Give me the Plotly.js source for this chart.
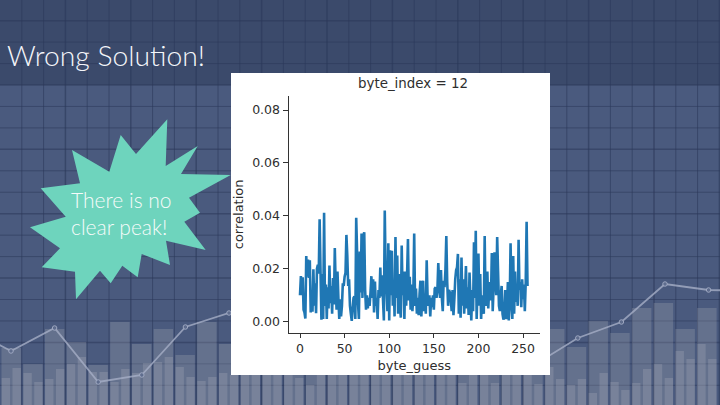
<!DOCTYPE html>
<html><head><meta charset="utf-8">
<script src="https://cdn.plot.ly/plotly-3.0.1.min.js"></script>
<style>html,body{margin:0;padding:0;background:#4a5a7e}#c{width:720px;height:405px}</style>
</head><body><div id="c"></div>
<script>
// --- line chart data: correlation per byte guess (byte_index = 12)
var correlation = [
.0100,.0172,.0100,.0168,.0045,.0035,.0012,.0248,.0170,.0235,.0165,.0232,.0035,.0100,.0038,.0198,
.0060,.0145,.0032,.0200,.0215,.0182,.0387,.0190,.0007,.0180,.0010,.0412,.0060,.0140,.0010,.0130,
.0050,.0212,.0070,.0135,.0030,.0165,.0065,.0278,.0135,.0045,.0190,.0090,.0010,.0085,.0020,.0060,
.0145,.0135,.0170,.0185,.0328,.0250,.0135,.0160,.0060,.0030,.0003,.0050,.0090,.0095,.0010,.0393,
.0260,.0070,.0010,.0265,.0110,.0333,.0090,.0325,.0338,.0120,.0045,.0100,.0050,.0090,.0060,.0110,
.0172,.0090,.0160,.0035,.0152,.0060,.0090,.0010,.0120,.0090,.0205,.0095,.0175,.0085,.0005,.0420,
.0180,.0120,.0040,.0296,.0005,.0270,.0100,.0268,.0060,.0150,.0020,.0320,.0090,.0250,.0030,.0180,
.0060,.0015,.0288,.0100,.0190,.0010,.0190,.0060,.0175,.0312,.0080,.0170,.0045,.0140,.0040,.0100,
.0333,.0060,.0125,.0030,.0090,.0025,.0105,.0155,.0020,.0090,.0155,.0040,.0105,.0030,.0232,.0090,
.0060,.0100,.0020,.0090,.0055,.0100,.0045,.0125,.0130,.0090,.0120,.0222,.0140,.0090,.0195,.0090,
.0040,.0155,.0130,.0195,.0324,.0150,.0060,.0120,.0110,.0085,.0040,.0120,.0025,.0085,.0160,.0195,
.0205,.0256,.0030,.0160,.0015,.0243,.0060,.0160,.0030,.0110,.0210,.0050,.0130,.0025,.0186,.0090,
.0005,.0120,.0040,.0300,.0090,.0344,.0010,.0150,.0258,.0060,.0180,.0010,.0100,.0060,.0030,.0324,
.0060,.0110,.0190,.0050,.0120,.0150,.0080,.0260,.0040,.0130,.0262,.0170,.0100,.0320,.0190,.0060,
.0040,.0100,.0135,.0030,.0008,.0020,.0120,.0010,.0055,.0150,.0005,.0060,.0296,.0110,.0010,.0248,
.0030,.0190,.0075,.0130,.0060,.0310,.0120,.0150,.0055,.0160,.0085,.0140,.0040,.0150,.0378,.0135
];
var xTicks = [0,50,100,150,200,250];
var yTicks = [0,0.02,0.04,0.06,0.08];
var yTickText = ["0.00","0.02","0.04","0.06","0.08"];
var guesses = correlation.map(function(_,i){return i;});

// --- slide backdrop: decorative bars and line (heights above the slide's bottom edge)
var frontBars = [27,37,32,23,26,36,41,48,33,33,23,36,32,42,43,48,38,28,24,28,32,30,
 35,35,35,35,35,27,20,35,35,35,35,35,35,35,35,35,35,35,35,30,22,35,35,22,35,35,35,
 21,38,26,20,26,12,32,23,15,22,36,41,27,54,46,61,46];
var backBars = [57,41,76,63,40,83,61,76,50,83,61,45,40,38,30,38,40,42,38,36,35,38,40,38,40,
 76,58,84,72,97,102,76,97];
var linePts = [77,54,77,23,30,78,92,75,85,60,65,55,70,40,67,83,121,115,114];

// --- starburst outline and white panel
var burstX = [167.3,165.7,197.7,181,230.7,189,200,184.3,205.7,166,170,141.7,137.7,122.3,110.7,100,76,75,41.7,60,30,65.7,40.7,80,72,109.3,120.7,136,167.3];
var burstY = [119.3,166,146,174,175,197.7,212.7,221.7,250,240.7,265,254,277.3,265.7,283.3,270.7,299.3,271.7,267.3,248.3,227.3,216.7,188.3,183.3,150,171.7,135,154,119.3];
var panelX = [231,550,550,231,231];
var panelY = [73,73,375,375,73];

function up(y){return 405-y;}
var slot = 10.87, pair = 21.74, grid = 21.8, gridY = 21.45;

var shapes = [
 {type:'rect',xref:'paper',yref:'paper',x0:0,x1:1,y0:up(85)/405,y1:1,fillcolor:'#3b4a6b',line:{width:0},layer:'below'}
];
for (var i=1;i<34;i++){
 shapes.push({type:'line',xref:'paper',yref:'paper',x0:i*grid/720,x1:i*grid/720,y0:0,y1:1,layer:'below',
  line:{color:'rgba(44,56,90,0.6)',width:(i%3==0?1.5:1)}});
}
for (var j=-3;j<15;j++){
 var yy = 85+j*gridY;
 shapes.push({type:'line',xref:'paper',yref:'paper',x0:0,x1:1,y0:up(yy)/405,y1:up(yy)/405,layer:'below',
  line:{color:'rgba(44,56,90,0.55)',width:(((j%3)+3)%3==0?1.5:1)}});
}

var traces = [
 {type:'bar',x:backBars.map(function(_,i){return 11.2+i*pair;}),y:backBars,width:19.5,
  marker:{color:'rgba(205,205,205,0.20)',line:{width:0}},hoverinfo:'skip',xaxis:'x',yaxis:'y'},
 {type:'bar',x:frontBars.map(function(_,i){return 5.8+i*slot;}),y:frontBars,width:8.4,
  marker:{color:'rgba(210,210,215,0.18)',line:{width:0}},hoverinfo:'skip',xaxis:'x',yaxis:'y'},
 {type:'scatter',mode:'lines+markers',x:linePts.map(function(_,i){return -32.6+i*43.6;}),y:linePts,
  line:{color:'rgba(165,174,198,0.8)',width:1.8},
  marker:{size:4.5,color:'rgba(90,104,138,0.9)',line:{color:'rgba(165,174,198,0.9)',width:1}},
  hoverinfo:'skip',xaxis:'x',yaxis:'y'},
 {type:'scatter',mode:'lines',x:panelX,y:panelY.map(up),fill:'toself',fillcolor:'#ffffff',line:{width:0},hoverinfo:'skip',xaxis:'x',yaxis:'y'},
 {type:'scatter',mode:'lines',x:burstX,y:burstY.map(up),fill:'toself',fillcolor:'#6ed4bd',line:{width:0},hoverinfo:'skip',xaxis:'x',yaxis:'y'},
 {type:'scatter',mode:'lines',x:guesses,y:correlation,line:{color:'#1f77b4',width:2.6,simplify:false},hoverinfo:'skip',xaxis:'x2',yaxis:'y2'}
];

var layout = {
 width:720,height:405,margin:{l:0,r:0,t:0,b:0},
 paper_bgcolor:'#4a5a7e',plot_bgcolor:'rgba(0,0,0,0)',showlegend:false,barmode:'overlay',
 xaxis:{domain:[0,1],range:[0,720],visible:false,fixedrange:true},
 yaxis:{domain:[0,1],range:[0,405],visible:false,fixedrange:true},
 xaxis2:{domain:[288.7/720,540/720],range:[-12.67,269],anchor:'y2',showgrid:false,zeroline:false,
  tickmode:'array',tickvals:xTicks,ticks:'outside',ticklen:4,tickwidth:1,tickcolor:'#333',
  showline:true,linecolor:'#333',linewidth:1.2,tickfont:{family:'DejaVu Sans',size:12.5,color:'#2e2e2e'},
  title:{text:'byte_guess',standoff:6,font:{family:'DejaVu Sans',size:13,color:'#2e2e2e'}}},
 yaxis2:{domain:[up(332.7)/405,up(96)/405],range:[-0.00416,0.0853],anchor:'x2',showgrid:false,zeroline:false,
  tickmode:'array',tickvals:yTicks,ticktext:yTickText,ticks:'outside',ticklen:5,tickwidth:1,tickcolor:'#333',
  showline:true,linecolor:'#333',linewidth:1.2,tickfont:{family:'DejaVu Sans',size:12.5,color:'#2e2e2e'},
  title:{text:'correlation',standoff:5,font:{family:'DejaVu Sans',size:13,color:'#2e2e2e'}}},
 shapes:shapes,
 annotations:[
  {xref:'paper',yref:'paper',x:5/720,y:up(55)/405,xanchor:'left',yanchor:'middle',showarrow:false,
   text:'Wrong Solution!',font:{family:'Lato',weight:300,size:28.3,color:'#f4f6fa'}},
  {xref:'paper',yref:'paper',x:69/720,y:up(213)/405,xanchor:'left',yanchor:'middle',align:'left',showarrow:false,
   text:'There is no<br>clear peak!',font:{family:'Lato',weight:300,size:21,color:'#f6fbfa'}},
  {xref:'paper',yref:'paper',x:413/720,y:up(83)/405,xanchor:'center',yanchor:'middle',showarrow:false,
   text:'byte_index = 12',font:{family:'DejaVu Sans',size:13.4,color:'#2e2e2e'}}
 ]
};
Plotly.newPlot('c',traces,layout,{staticPlot:true,displayModeBar:false});
</script></body></html>
